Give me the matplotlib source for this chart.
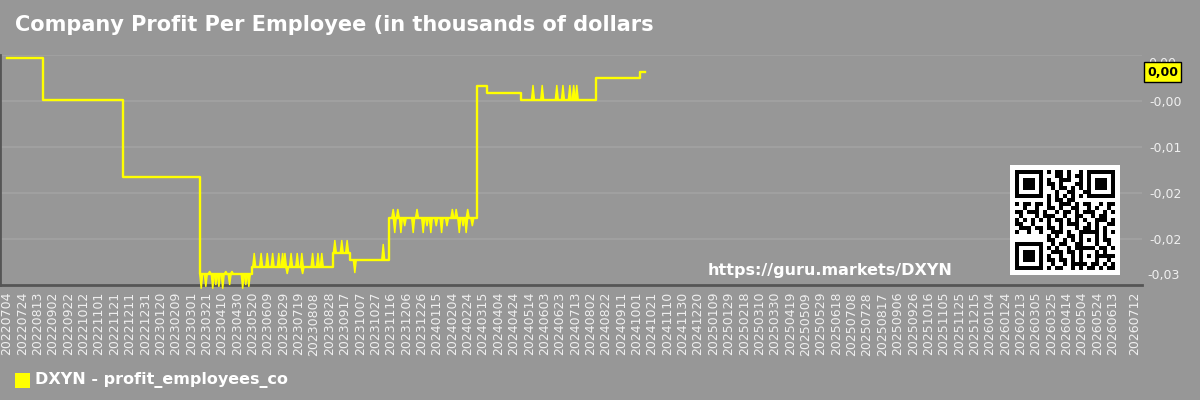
import matplotlib
matplotlib.use('Agg')
from matplotlib import pyplot as plt
from matplotlib import transforms
from matplotlib.patches import Rectangle
import matplotlib.dates as mdates
import numpy as np
import pandas as pd

# step levels of the series (value holds until the next date)
level_dates = ['2022-07-04', '2022-08-20', '2022-12-02', '2023-03-12', '2023-05-19',
               '2023-09-02', '2023-09-24', '2023-11-13', '2024-03-07', '2024-03-20',
               '2024-05-03', '2024-08-09', '2024-10-05', '2024-10-12']
level_values = [-0.00033, -0.00489, -0.01326, -0.02380, -0.02304,
                -0.02152, -0.02228, -0.01772, -0.00337, -0.00413,
                -0.00489, -0.00250, -0.00185, -0.00185]

# short spikes on top of the levels
spike_dates = ['2023-03-14', '2023-03-20', '2023-03-25', '2023-03-29', '2023-04-02',
               '2023-04-06', '2023-04-11', '2023-04-15', '2023-04-20', '2023-04-23',
               '2023-05-07', '2023-05-11', '2023-05-15',
               '2023-05-22', '2023-05-31', '2023-06-08', '2023-06-15', '2023-06-23',
               '2023-06-28', '2023-07-01', '2023-07-04', '2023-07-09', '2023-07-17',
               '2023-07-23', '2023-07-24', '2023-08-06', '2023-08-13', '2023-08-18',
               '2023-09-04', '2023-09-13', '2023-09-20', '2023-09-30', '2023-11-06',
               '2023-11-19', '2023-11-21', '2023-11-25', '2023-11-29', '2023-12-04',
               '2023-12-15', '2023-12-20', '2023-12-28', '2024-01-02', '2024-01-07',
               '2024-01-14', '2024-01-21', '2024-01-28', '2024-02-04', '2024-02-09',
               '2024-02-13', '2024-02-18', '2024-02-22', '2024-02-24', '2024-03-01',
               '2024-05-19', '2024-05-31', '2024-06-19', '2024-06-27', '2024-07-06',
               '2024-07-11', '2024-07-15']
spike_values = [-0.0254, -0.0252, -0.0235, -0.0254, -0.0250,
                -0.0252, -0.0254, -0.0235, -0.0250, -0.0235,
                -0.0254, -0.0250, -0.0252,
                -0.02152, -0.02152, -0.02152, -0.02152, -0.02152,
                -0.02152, -0.02152, -0.02380, -0.02152, -0.02152,
                -0.02152, -0.02380, -0.02152, -0.02152, -0.02152,
                -0.02011, -0.02011, -0.02011, -0.02370, -0.02054,
                -0.01674, -0.01935, -0.01674, -0.01935, -0.01860,
                -0.01935, -0.01674, -0.01935, -0.01860, -0.01935,
                -0.01860, -0.01935, -0.01860, -0.01674, -0.01674,
                -0.01935, -0.01860, -0.01935, -0.01674, -0.01860,
                -0.00326, -0.00326, -0.00326, -0.00326, -0.00326,
                -0.00326, -0.00326]

grid_values = [0.0, -0.005, -0.010, -0.015, -0.020]
grid_labels = ['', '-0,00', '-0,01', '-0,02', '-0,02']
top_label, top_label_value = '0,00', -0.0009
bottom_label, bottom_label_value = '-0,03', -0.0240
last_label = '0,00'

tick_dates = list(pd.date_range('2022-07-04', '2026-06-13', freq='20D')) + [pd.Timestamp('2026-07-12')]

qr_rows = [
    "#######.#.##.#..#.#######",
    "#.....#...##.#.##.#.....#",
    "#.###.#.#..###..#.#.###.#",
    "#.###.#.##.#...##.#.###.#",
    "#.###.#..#.##.#.#.#.###.#",
    "#.....#...#..##..##.....#",
    "#######.#.#.#.#.#.#######",
    "........#.##.##..........",
    "#.##.##.#..###.#.##..#.##",
    "..#..#..##.#..##..#.#..#.",
    "##.###.#..#.##.#.###..#.#",
    ".#...#.###..#..##..#.##..",
    "#.#.#.#.#.##.#.#.#..###.#",
    "##..#...#..#.###..#.#..##",
    ".###.##.##.#...#.##.#.#..",
    "#..#..#..###.#..#####.#.#",
    "........#.#..##.#...#.#..",
    "........##..#.#.#.#.#.##.",
    "#######..#.##..##...#..#.",
    "#.....#.#.#..#.#####.##.#",
    "#.###.#..###.##.#...#.#..",
    "#.###.#.#..#..#.#.#.#####",
    "#.###.#.##.##.#.#...#..#.",
    "#.....#..#..#.####.##.#.#",
    "#######.#.##..#.#.##.#.##",
]

BG = '#979797'
GRID = '#a2a2a2'
TXT = '#f0f0f0'
YEL = '#ffff00'


def main():
    fig = plt.figure(figsize=(12, 4), dpi=100, facecolor=BG)
    ax = fig.add_axes([0.0, 1 - 285 / 400, 1142 / 1200, (285 - 55) / 400])
    ax.set_facecolor(BG)

    ld = pd.to_datetime(level_dates)
    ax.plot(ld, level_values, drawstyle='steps-post', color=YEL, lw=1.7, clip_on=False, zorder=3)

    sd = pd.to_datetime(spike_dates)
    lnum = mdates.date2num(ld)
    for d, v in zip(sd, spike_values):
        base = level_values[np.searchsorted(lnum, mdates.date2num(d), side='right') - 1]
        xs = [d - pd.Timedelta(days=2), d, d + pd.Timedelta(days=2)]
        ax.fill(xs, [base, v, base], color=YEL, lw=1.0, clip_on=False, zorder=3)

    ax.set_xlim(pd.Timestamp('2022-06-25'), pd.Timestamp('2026-07-21'))
    ax.set_ylim(-0.025, 0.0)

    ax.set_xticks(tick_dates)
    ax.set_xticklabels([d.strftime('%Y%m%d') for d in tick_dates], rotation=90,
                       fontsize=9, color=TXT)
    ax.tick_params(axis='x', length=0, pad=5)

    ax.yaxis.tick_right()
    ax.set_yticks(grid_values)
    ax.set_yticklabels(grid_labels, fontsize=9, color=TXT)
    ax.tick_params(axis='y', length=0, pad=5)
    ax.grid(axis='y', color=GRID, lw=1.2)
    ax.set_axisbelow(True)

    trans = transforms.blended_transform_factory(ax.transAxes, ax.transData)
    ax.text(1.005, top_label_value, top_label, transform=trans, fontsize=9, color=TXT, va='center')
    ax.text(1.005, bottom_label_value, bottom_label, transform=trans, fontsize=9, color=TXT, va='center')
    ax.text(1.0045, level_values[-1], last_label, transform=trans, fontsize=9, color='black',
            fontweight='bold', va='center', zorder=5,
            bbox=dict(boxstyle='square,pad=0.25', fc=YEL, ec='black', lw=1))

    for s in ['top', 'right']:
        ax.spines[s].set_visible(False)
    ax.spines['left'].set_color('#555555')
    ax.spines['left'].set_linewidth(2)
    ax.spines['bottom'].set_color('#555555')
    ax.spines['bottom'].set_linewidth(2)

    fig.text(15 / 1200, 1 - 25 / 400, 'Company Profit Per Employee (in thousands of dollars',
             fontsize=15, fontweight='bold', color='white', va='center')

    fig.patches.append(Rectangle((15 / 1200, 1 - 388 / 400), 15 / 1200, 15 / 400,
                                 transform=fig.transFigure, fc=YEL, ec='none'))
    fig.text(35 / 1200, 1 - 380 / 400, 'DXYN - profit_employees_co', fontsize=11.5,
             fontweight='bold', color='white', va='center')

    fig.text(708 / 1200, 1 - 270 / 400, 'https://guru.markets/DXYN', fontsize=11.5,
             fontweight='bold', color='white', va='center')

    # QR code: white card with the module grid on it
    card = fig.add_axes([1010 / 1200, 1 - 275 / 400, 110 / 1200, 110 / 400])
    card.set_facecolor('white')
    card.set_xticks([])
    card.set_yticks([])
    for s in card.spines.values():
        s.set_visible(False)
    card.set_zorder(4)
    qr = np.array([[1 if c == '#' else 0 for c in r.ljust(25, '.')[:25]] for r in qr_rows])
    qax = fig.add_axes([1015 / 1200, 1 - 270 / 400, 100 / 1200, 100 / 400])
    qax.imshow(qr, cmap='gray_r', vmin=0, vmax=1, interpolation='nearest', aspect='auto')
    qax.axis('off')
    qax.set_zorder(5)

    fig.savefig('out.png', dpi=100, facecolor=BG)


if __name__ == '__main__':
    main()
